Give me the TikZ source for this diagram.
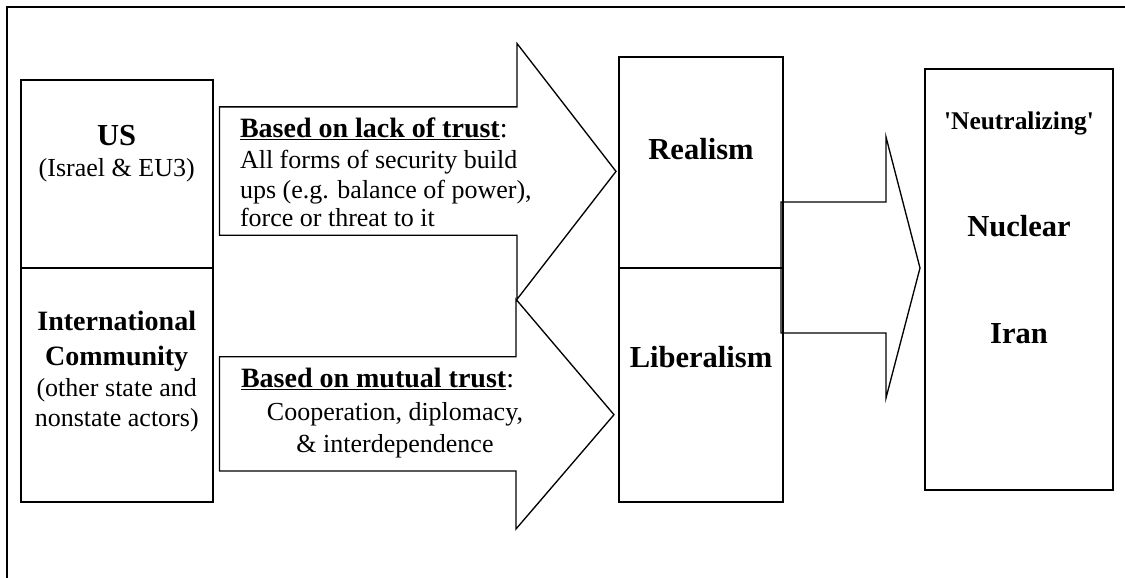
\documentclass[tikz,border=0pt]{standalone}
\usepackage{fontspec}
\setmainfont{Liberation Serif}

\begin{document}
\begin{tikzpicture}[x=0.75pt,y=-0.75pt]
        \tikzstyle{every node}=[inner sep=0pt,outer sep=0pt]
        \tikzstyle{box}=[draw=black,line width=1.6pt]
        \tikzstyle{blockarrow}=[draw=black,line width=1pt,line join=miter]
        \tikzstyle{big}=[font=\bfseries\fontsize{22.9}{26}\selectfont,anchor=base]
        \tikzstyle{mid}=[font=\bfseries\fontsize{21}{24}\selectfont,anchor=base]
        \tikzstyle{txt}=[font=\fontsize{19.5}{22}\selectfont,anchor=base]

        \useasboundingbox (0,0) rectangle (1125,578);
        \draw[line width=1.6pt] (7,578) -- (7,7.4) -- (1125,7.4);

        % left column
        \node[box,minimum width=144.1pt,minimum height=140.7pt] (US) at (116.65,174.2) {};
        \node[box,minimum width=144.1pt,minimum height=175.5pt] (IC) at (116.65,385)   {};

        \node[big] (USname) at (116.7,145.6) {US};
        \node[txt] (USsub)  at (116.7,176)   {(Israel \& EU3)};
        \node[mid] (ICname) at (116.7,330.6) {International};
        \node[mid] (ICname2) at (116.7,365)  {Community};
        \node[txt] (ICsub)  at (116.7,396)   {(other state and};
        \node[txt] (ICsub2) at (116.7,426)   {nonstate actors)};

        % block arrows
        \draw[blockarrow] (219.5,106.9) -- (517,106.9) -- (517,43.5) -- (616,171.4)
              -- (517,299.3) -- (517,235.2) -- (219.5,235.2) -- cycle;
        \draw[blockarrow] (219.5,356.8) -- (516,356.8) -- (516,299.3) -- (614,414.7)
              -- (516,529) -- (516,471) -- (219.5,471) -- cycle;
        \draw[blockarrow] (781,202) -- (886,202) -- (886,137) -- (920,268)
              -- (886,398) -- (886,333) -- (781,333) -- cycle;

        \node[mid,anchor=base west] (lack)  at (240,137)   {\underline{Based on lack of trust}\mdseries:};
        \node[txt,anchor=base west] (lack1) at (240,168)   {All forms of security build};
        \node[txt,anchor=base west] (lack2) at (240,198)   {ups (e.g. balance of power),};
        \node[txt,anchor=base west] (lack3) at (240,226)   {force or threat to it};

        \node[mid,anchor=base west] (mutual)  at (241,387) {\underline{Based on mutual trust}\mdseries:};
        \node[txt] (mutual1) at (395,420)   {Cooperation, diplomacy,};
        \node[txt] (mutual2) at (395,452.6) {\& interdependence};

        % middle column
        \node[box,minimum width=123.5pt,minimum height=158.25pt] (Real) at (701,162.5) {};
        \node[box,minimum width=123.5pt,minimum height=175.5pt]  (Lib)  at (701,385)   {};
        \node[big] (Realname) at (701,159)   {Realism};
        \node[big] (Libname)  at (701,367.5) {Liberalism};

        % right column
        \node[box,minimum width=141pt,minimum height=315.75pt] (Iran) at (1019,279.5) {};
        \node[font=\bfseries\fontsize{19.1}{22}\selectfont,anchor=base] (Neut) at (1019,129)
              {\textquotesingle Neutralizing\textquotesingle};
        \node[big] (Nuc)      at (1019,236) {Nuclear};
        \node[big] (Iranname) at (1019,343) {Iran};
\end{tikzpicture}
\end{document}
